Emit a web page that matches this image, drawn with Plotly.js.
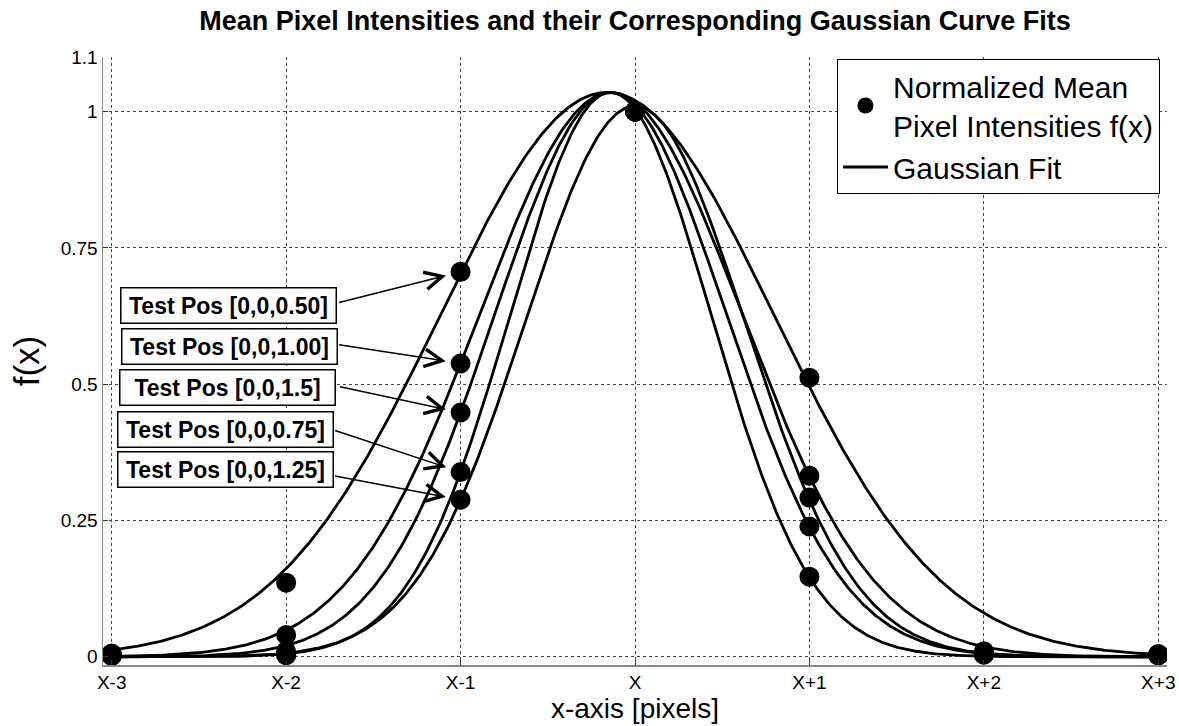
<!DOCTYPE html>
<html>
<head>
<meta charset="utf-8">
<script src="https://cdn.plot.ly/plotly-3.0.1.min.js"></script>
<style>
  html, body { margin: 0; padding: 0; background: #fff; }
  #chart { width: 1179px; height: 726px; }
</style>
</head>
<body>
<div id="chart"></div>
<script>
// Pixel offsets from the centre pixel X
const pixelOffsets = [-3, -2, -1, 0, 1, 2, 3];
const offsetLabels = ['X-3', 'X-2', 'X-1', 'X', 'X+1', 'X+2', 'X+3'];

// Test positions
const testPositions = ['Test Pos [0,0,0.50]', 'Test Pos [0,0,1.00]', 'Test Pos [0,0,1.5]',
                       'Test Pos [0,0,0.75]', 'Test Pos [0,0,1.25]'];

// Normalized mean pixel intensities f(x), one array per test position
const intensityPos050 = [0.006, 0.136, 0.706, 1.0, 0.512, 0.010, 0.005];
const intensityPos100 = [0.004, 0.040, 0.538, 1.0, 0.332, 0.007, 0.004];
const intensityPos150 = [0.003, 0.010, 0.448, 1.0, 0.239, 0.005, 0.003];
const intensityPos075 = [0.002, 0.004, 0.339, 1.0, 0.147, 0.004, 0.003];
const intensityPos125 = [0.002, 0.003, 0.288, 1.0, 0.292, 0.005, 0.003];

// Gaussian fit parameters: f(x) = a * exp(-(x - b)^2 / (2 c^2))
const fitAmplitude = [1.035, 1.035, 1.035, 1.035, 1.01];
const fitCentre    = [-0.16, -0.138, -0.14, -0.14, 0.0];
const fitSigma     = [0.955, 0.7535, 0.6645, 0.5757, 0.631];

// y-axis ticks
const yTickVals = [0, 0.25, 0.5, 0.75, 1, 1.1];
const yTickText = ['0', '0.25', '0.5', '0.75', '1', '1.1'];

const intensities = [intensityPos050, intensityPos100, intensityPos150, intensityPos075, intensityPos125];

const FONT = 'Liberation Sans, Arial, Helvetica, sans-serif';

// Evaluate each Gaussian fit over the pixel range
function gaussianCurve(i) {
  const xs = [], ys = [];
  const lo = pixelOffsets[0], hi = pixelOffsets[pixelOffsets.length - 1];
  const n = 600;
  for (let k = 0; k <= n; k++) {
    const x = lo + (hi - lo) * k / n;
    const d = x - fitCentre[i];
    xs.push(x);
    ys.push(fitAmplitude[i] * Math.exp(-d * d / (2 * fitSigma[i] * fitSigma[i])));
  }
  return { xs, ys };
}

const traces = [];
intensities.forEach((vals, i) => {
  const c = gaussianCurve(i);
  traces.push({
    x: c.xs, y: c.ys, type: 'scatter', mode: 'lines',
    line: { color: '#000', width: 2.8 },
    name: 'Gaussian Fit', legendgroup: 'fit', legendrank: 2,
    showlegend: i === 0, hoverinfo: 'skip'
  });
});
intensities.forEach((vals, i) => {
  traces.push({
    x: pixelOffsets, y: vals, type: 'scatter', mode: 'markers',
    marker: { color: '#000', size: 20, symbol: 'circle' },
    name: 'Normalized Mean<br>Pixel Intensities f(x)', legendgroup: 'pts', legendrank: 1,
    showlegend: i === 0
  });
});

// Label boxes (data coordinates) and arrow tail offsets (pixels from the pointed marker)
const boxX = [-2.328, -2.325, -2.337, -2.348, -2.348];
const boxY = [0.644, 0.570, 0.4945, 0.4174, 0.344];
const arrowTail = [[-123, 31], [-123, -19], [-122, -26], [-127, -42], [-127, -24]];
const iMinus1 = pixelOffsets.indexOf(-1);

const annotations = [];
testPositions.forEach((label, i) => {
  annotations.push({
    x: -1, y: intensities[i][iMinus1], xref: 'x', yref: 'y',
    text: '', showarrow: true,
    ax: arrowTail[i][0], ay: arrowTail[i][1],
    arrowhead: 5, arrowsize: 2.3, arrowwidth: 1.5, arrowcolor: '#000', standoff: 15
  });
  annotations.push({
    x: boxX[i], y: boxY[i], xref: 'x', yref: 'y',
    text: '<b>' + label + '</b>', showarrow: false,
    font: { family: FONT, size: 23, color: '#000' },
    bgcolor: '#fff', bordercolor: '#000', borderwidth: 1.5,
    width: 212, height: 32, xanchor: 'center', yanchor: 'middle'
  });
});

const gridDash = '3px,3px';
const layout = {
  width: 1179, height: 726,
  margin: { l: 103, r: 12, t: 57, b: 61 },
  paper_bgcolor: '#fff', plot_bgcolor: '#fff',
  font: { family: FONT, color: '#000' },
  title: {
    text: 'Mean Pixel Intensities and their Corresponding Gaussian Curve Fits',
    font: { family: FONT, size: 27, weight: 700, color: '#000' },
    xref: 'paper', x: 0.5, xanchor: 'center',
    yref: 'container', y: 0.972, yanchor: 'middle'
  },
  xaxis: {
    range: [-3.05, 3.05], tickvals: pixelOffsets, ticktext: offsetLabels,
    showgrid: true, gridcolor: '#444', gridwidth: 1, griddash: gridDash,
    zeroline: false, showline: true, linecolor: '#888', linewidth: 1.5,
    ticks: 'inside', ticklen: 5, tickcolor: '#333', tickwidth: 1,
    tickfont: { family: FONT, size: 19, color: '#000' },
    title: { text: 'x-axis [pixels]', font: { family: FONT, size: 28, color: '#000' }, standoff: 4 },
    fixedrange: true
  },
  yaxis: {
    range: [-0.015, 1.1], tickvals: yTickVals, ticktext: yTickText,
    showgrid: true, gridcolor: '#444', gridwidth: 1, griddash: gridDash,
    zeroline: false, showline: true, linecolor: '#888', linewidth: 1.5,
    ticks: 'inside', ticklen: 5, tickcolor: '#333', tickwidth: 1,
    tickfont: { family: FONT, size: 19, color: '#000' },
    title: { text: 'f(x)', font: { family: FONT, size: 35, color: '#000' }, standoff: 10 },
    fixedrange: true
  },
  legend: {
    x: 0.9934, y: 0.9967, xref: 'paper', yref: 'paper', xanchor: 'right', yanchor: 'top',
    bgcolor: '#fff', bordercolor: '#000', borderwidth: 1,
    font: { family: FONT, size: 30, color: '#000' },
    tracegroupgap: 0, itemwidth: 45
  },
  annotations: annotations,
  showlegend: true
};

Plotly.newPlot('chart', traces, layout, { staticPlot: true, displayModeBar: false });
</script>
</body>
</html>
